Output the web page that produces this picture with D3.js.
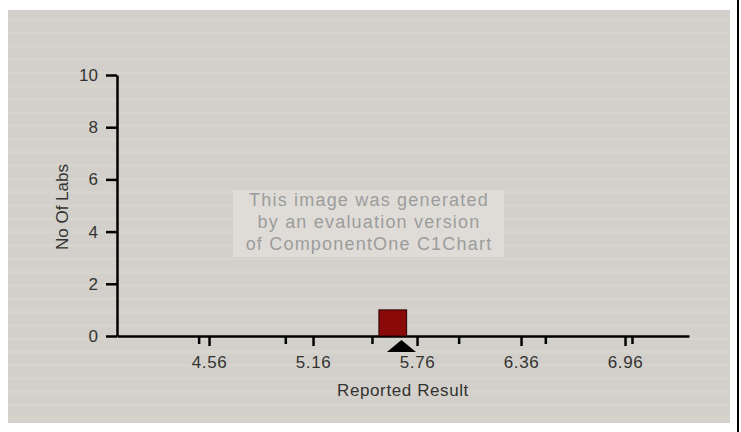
<!DOCTYPE html>
<html><head><meta charset="utf-8">
<script src="https://cdn.jsdelivr.net/npm/d3@7"></script>
<style>
html,body{margin:0;padding:0;background:#fff;}
svg{display:block;}
text{font-family:"Liberation Sans",Arial,sans-serif;}
</style></head>
<body>
<svg id="chart" width="741" height="432"></svg>
<script>
// ---- data ----
const yTicks = [0, 2, 4, 6, 8, 10];
const xLabelTicks = [4.56, 5.16, 5.76, 6.36, 6.96];
const xMinorTicks = [4.5, 5.0, 5.5, 6.0, 6.5, 7.0];
const binStarts = [5.54];
const binEnds = [5.70];
const labCounts = [1];
const assignedValue = [5.67];
const xDomain = [4.029, 7.329];
const yDomain = [0, 10];
const watermarkLines = ["This image was generated", "by an evaluation version", "of ComponentOne C1Chart"];

const svg = d3.select("#chart");
const W = 741, H = 432;

svg.append("rect").attr("width", W).attr("height", H).attr("fill", "#ffffff");
// panel
svg.append("rect").attr("x", 8).attr("y", 10).attr("width", 722).attr("height", 413).attr("fill", "#d3d0cb");
// faint stripes
svg.append("g").selectAll("rect").data(d3.range(18, 420, 13.3)).join("rect")
  .attr("x", 8).attr("width", 722).attr("y", d => d).attr("height", 3)
  .attr("fill", "#d6d6cc").attr("opacity", 0.8);
// right border line
svg.append("line").attr("x1", 738).attr("x2", 738).attr("y1", 0).attr("y2", H)
  .attr("stroke", "#000").attr("stroke-width", 2);

const x = d3.scaleLinear().domain(xDomain).range([117, 689]);
const y = d3.scaleLinear().domain(yDomain).range([336, 75]);

// watermark
const wm = svg.append("g");
wm.append("rect").attr("x", 233).attr("y", 190).attr("width", 271).attr("height", 67).attr("fill", "#dfdcd8");
wm.selectAll("text").data(watermarkLines).join("text")
  .attr("x", 369).attr("y", (d, i) => 206 + i * 22)
  .attr("text-anchor", "middle").attr("font-size", 18).attr("letter-spacing", 1.2)
  .attr("fill", "#9c9c9c").text(d => d);

// y axis
const gy = svg.append("g").attr("transform", "translate(117,0)")
  .call(d3.axisLeft(y).tickValues(yTicks).tickSize(11).tickSizeOuter(0).tickPadding(8).tickFormat(d3.format("d")));
gy.select(".domain").attr("stroke", "#000").attr("stroke-width", 2.5);
gy.selectAll(".tick line").attr("stroke", "#000").attr("stroke-width", 2.5);
gy.selectAll(".tick text").attr("font-size", 17).attr("fill", "#333").attr("font-family", "Liberation Sans, Arial, sans-serif");

// x axis minor ticks
const gxm = svg.append("g").attr("transform", "translate(0,336)")
  .call(d3.axisBottom(x).tickValues(xMinorTicks).tickSize(8).tickSizeOuter(0).tickFormat(""));
gxm.select(".domain").attr("stroke", "#000").attr("stroke-width", 2.5);
gxm.selectAll(".tick line").attr("stroke", "#000").attr("stroke-width", 2.5);

// x axis labeled ticks
const gx = svg.append("g").attr("transform", "translate(0,336)")
  .call(d3.axisBottom(x).tickValues(xLabelTicks).tickSize(10).tickSizeOuter(0).tickPadding(10).tickFormat(d3.format(".2f")));
gx.select(".domain").remove();
gx.selectAll(".tick line").attr("stroke", "#000").attr("stroke-width", 2.5);
gx.selectAll(".tick text").attr("font-size", 17).attr("letter-spacing", 0.6).attr("fill", "#333").attr("font-family", "Liberation Sans, Arial, sans-serif");

// bars
svg.append("g").selectAll("rect").data(labCounts).join("rect")
  .attr("x", (d, i) => x(binStarts[i]))
  .attr("width", (d, i) => x(binEnds[i]) - x(binStarts[i]))
  .attr("y", d => y(d)).attr("height", d => y(0) - y(d))
  .attr("fill", "#8a0a0a").attr("stroke", "#2a0000").attr("stroke-width", 1);

// assigned value marker (triangle)
svg.append("g").selectAll("path").data(assignedValue).join("path")
  .attr("d", d => {
    const cx = x(d), top = y(0) + 4, h = 12, hw = 14.5;
    return `M${cx},${top}L${cx + hw},${top + h}L${cx - hw},${top + h}Z`;
  })
  .attr("fill", "#000");

// axis titles
svg.append("text").attr("x", (x.range()[0] + x.range()[1]) / 2).attr("y", 396)
  .attr("text-anchor", "middle").attr("font-size", 17).attr("letter-spacing", 0.6)
  .attr("fill", "#333").text("Reported Result");
svg.append("text").attr("transform", "translate(68,207) rotate(-90)")
  .attr("text-anchor", "middle").attr("font-size", 17)
  .attr("fill", "#333").text("No Of Labs");
</script>
</body></html>
